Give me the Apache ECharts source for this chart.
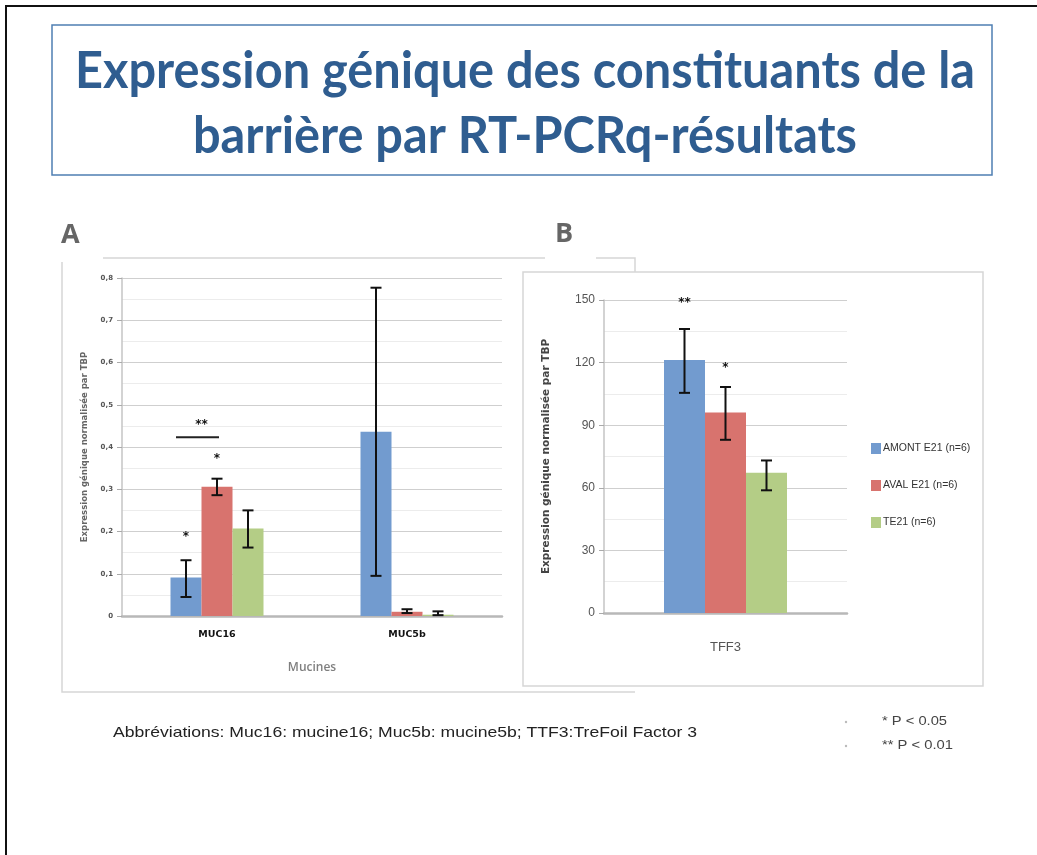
<!DOCTYPE html>
<html><head><meta charset="utf-8">
<script src="https://cdn.jsdelivr.net/npm/echarts@6/dist/echarts.min.js"></script>
<style>html,body{margin:0;padding:0;background:#fff}#c{width:1037px;height:855px}</style>
</head><body><div id="c"></div>
<script>
// Groups shown in both panels
const groupNames = ['AMONT E21 (n=6)', 'AVAL E21 (n=6)', 'TE21 (n=6)'];
const groupColors = ['#729bcf', '#d8736e', '#b4cd86'];

// Panel A: mucins (normalised expression)
const mucinCategories = ['MUC16', 'MUC5b'];
const mucinAmont = [0.091, 0.436];
const mucinAmontLow = [0.045, 0.095];
const mucinAmontHigh = [0.132, 0.777];
const mucinAval = [0.306, 0.010];
const mucinAvalLow = [0.286, 0.007];
const mucinAvalHigh = [0.325, 0.016];
const mucinTe = [0.207, 0.003];
const mucinTeLow = [0.162, 0.002];
const mucinTeHigh = [0.250, 0.011];
// [category, group, value, mark]
const mucinStars = [[0, 0, 0.187, '*'], [0, 1, 0.371, '*'], [0, 0.5, 0.452, '**']];
// [category, fromGroup, toGroup, value]
const mucinBrackets = [[0, 0, 1, 0.423]];

// Panel B: TFF3
const tffCategories = ['TFF3'];
const tffAmont = [121.2];
const tffAmontLow = [105.5];
const tffAmontHigh = [136.1];
const tffAval = [96.1];
const tffAvalLow = [83.0];
const tffAvalHigh = [108.3];
const tffTe = [67.2];
const tffTeLow = [58.8];
const tffTeHigh = [73.1];
const tffStars = [[0, 0, 148.4, '**'], [0, 1, 117.3, '*']];

const yTitle = 'Expression génique normalisée par TBP';
const titleLines = ['Expression génique des constituants de la', 'barrière par RT-PCRq-résultats'];
const footnote = 'Abbréviations: Muc16: mucine16; Muc5b: mucine5b; TTF3:TreFoil Factor 3';
const pNotes = ['* P < 0.05', '** P < 0.01'];

const BAR_A = 31, BAR_B = 41, CAP = 11;

// horizontal scale that makes a string span a given width
const measureCtx = document.createElement('canvas').getContext('2d');
function fitScale(text, font, width) {
  measureCtx.font = font;
  return width / measureCtx.measureText(text).width;
}

function errorData(lows, highs) {
  const out = [];
  lows.forEach((lo, s) => lo.forEach((v, c) => out.push([c, s, v, highs[s][c]])));
  return out;
}

function errorBars(barW) {
  return function (params, api) {
    const cat = api.value(0), s = api.value(1);
    const pLo = api.coord([cat, api.value(2)]);
    const pHi = api.coord([cat, api.value(3)]);
    const x = pLo[0] + (s - 1) * barW;
    const st = { stroke: '#111', lineWidth: 2 };
    return { type: 'group', children: [
      { type: 'line', shape: { x1: x, y1: pLo[1], x2: x, y2: pHi[1] }, style: st },
      { type: 'line', shape: { x1: x - CAP / 2, y1: pHi[1], x2: x + CAP / 2, y2: pHi[1] }, style: st },
      { type: 'line', shape: { x1: x - CAP / 2, y1: pLo[1], x2: x + CAP / 2, y2: pLo[1] }, style: st }
    ]};
  };
}

function starMarks(barW, size) {
  return function (params, api) {
    const p = api.coord([api.value(0), api.value(2)]);
    const x = p[0] + (api.value(1) - 1) * barW;
    return { type: 'text', x: x, y: p[1], style: {
      text: api.value(3), fill: '#111', font: 'bold ' + size + 'px "DejaVu Sans"',
      align: 'center', verticalAlign: 'middle' } };
  };
}

function bracketLines(barW) {
  return function (params, api) {
    const p = api.coord([api.value(0), api.value(3)]);
    const x1 = p[0] + (api.value(1) - 1) * barW - 10;
    const x2 = p[0] + (api.value(2) - 1) * barW + 2;
    return { type: 'line', shape: { x1: x1, y1: p[1], x2: x2, y2: p[1] },
      style: { stroke: '#222', lineWidth: 2 } };
  };
}

const chart = echarts.init(document.getElementById('c'), null, { renderer: 'canvas' });

const gridLine = { lineStyle: { color: '#cfcfcf', width: 1.2 } };
const minorLine = { lineStyle: { color: '#ececec', width: 1 } };

const mucinBars = [mucinAmont, mucinAval, mucinTe];
const tffBars = [tffAmont, tffAval, tffTe];

const series = [];
mucinBars.forEach((d, i) => series.push({
  name: groupNames[i], type: 'bar', xAxisIndex: 0, yAxisIndex: 0, data: d,
  barWidth: BAR_A, barGap: '0%', itemStyle: { color: groupColors[i] }, z: 2
}));
tffBars.forEach((d, i) => series.push({
  name: groupNames[i], type: 'bar', xAxisIndex: 1, yAxisIndex: 1, data: d,
  barWidth: BAR_B, barGap: '0%', itemStyle: { color: groupColors[i] }, z: 2
}));
series.push({
  type: 'custom', xAxisIndex: 0, yAxisIndex: 0, z: 5, silent: true,
  renderItem: errorBars(BAR_A), encode: { x: 0, y: [2, 3] },
  data: errorData([mucinAmontLow, mucinAvalLow, mucinTeLow], [mucinAmontHigh, mucinAvalHigh, mucinTeHigh])
});
series.push({
  type: 'custom', xAxisIndex: 1, yAxisIndex: 1, z: 5, silent: true,
  renderItem: errorBars(BAR_B), encode: { x: 0, y: [2, 3] },
  data: errorData([tffAmontLow, tffAvalLow, tffTeLow], [tffAmontHigh, tffAvalHigh, tffTeHigh])
});
series.push({
  type: 'custom', xAxisIndex: 0, yAxisIndex: 0, z: 5, silent: true,
  renderItem: starMarks(BAR_A, 12), encode: { x: 0, y: 2 }, data: mucinStars
});
series.push({
  type: 'custom', xAxisIndex: 0, yAxisIndex: 0, z: 5, silent: true,
  renderItem: bracketLines(BAR_A), encode: { x: 0, y: 3 }, data: mucinBrackets
});
series.push({
  type: 'custom', xAxisIndex: 1, yAxisIndex: 1, z: 5, silent: true,
  renderItem: starMarks(BAR_B, 12), encode: { x: 0, y: 2 }, data: tffStars
});

const frame = { stroke: '#d6d6d6', lineWidth: 1.5, fill: null };
const titleFont = 'bold 51px Lato';
const titleScale = fitScale(titleLines[0], titleFont, 900);
const footFont = '15px "Liberation Sans"';
const pFont = '12px "Liberation Sans"';

chart.setOption({
  backgroundColor: '#fff',
  animation: false,
  grid: [
    { left: 122, top: 278, width: 380, height: 338 },
    { left: 604, top: 300, width: 243, height: 313 }
  ],
  legend: {
    data: groupNames, orient: 'vertical', left: 866, top: 438,
    itemWidth: 10, itemHeight: 11, itemGap: 26, icon: 'rect',
    textStyle: { fontFamily: '"Liberation Sans"', fontSize: 10.5, color: '#333', padding: [0, 0, 0, -3] }
  },
  xAxis: [
    { type: 'category', gridIndex: 0, data: mucinCategories, z: 1,
      name: 'Mucines', nameLocation: 'middle', nameGap: 46,
      nameTextStyle: { fontFamily: '"Open Sans"', fontWeight: 600, fontSize: 12, color: '#7f7f7f' },
      axisLine: { lineStyle: { color: '#b8b8b8', width: 2.5 } }, axisTick: { show: false },
      axisLabel: { margin: 14, fontFamily: '"DejaVu Sans"', fontWeight: 'bold', fontSize: 9.5, color: '#111' } },
    { type: 'category', gridIndex: 1, data: tffCategories, z: 1,
      axisLine: { lineStyle: { color: '#b8b8b8', width: 2.5 } }, axisTick: { show: false },
      axisLabel: { margin: 28, fontFamily: '"Liberation Sans"', fontSize: 13, color: '#555' } }
  ],
  yAxis: [
    { type: 'value', gridIndex: 0, min: 0, max: 0.8, interval: 0.1, z: 1,
      name: yTitle, nameLocation: 'middle', nameGap: 33, nameRotate: 90,
      nameTextStyle: { fontFamily: '"DejaVu Sans"', fontWeight: 'bold', fontSize: 8.5, color: '#666' },
      axisLine: { show: true, lineStyle: { color: '#c4c4c4', width: 1.5 } },
      axisTick: { show: true, length: 5, lineStyle: { color: '#aaa' } },
      axisLabel: { margin: 9, fontFamily: '"DejaVu Sans"', fontWeight: 'bold', fontSize: 7, color: '#555',
        formatter: v => v === 0 ? '0' : v.toFixed(1).replace('.', ',') },
      splitLine: gridLine, minorTick: { show: false, splitNumber: 2 }, minorSplitLine: Object.assign({ show: true }, minorLine) },
    { type: 'value', gridIndex: 1, min: 0, max: 150, interval: 30, z: 1,
      name: yTitle, nameLocation: 'middle', nameGap: 52, nameRotate: 90,
      nameTextStyle: { fontFamily: '"DejaVu Sans"', fontWeight: 'bold', fontSize: 10.5, color: '#444' },
      axisLine: { show: true, lineStyle: { color: '#c4c4c4', width: 1.5 } },
      axisTick: { show: true, length: 5, lineStyle: { color: '#aaa' } },
      axisLabel: { margin: 9, fontFamily: '"Liberation Sans"', fontSize: 12, color: '#555' },
      splitLine: gridLine, minorTick: { show: false, splitNumber: 2 }, minorSplitLine: Object.assign({ show: true }, minorLine) }
  ],
  graphic: [
    // page border
    { type: 'polyline', z: -1, shape: { points: [[6, 855], [6, 6], [1037, 6]] }, style: { stroke: '#111', lineWidth: 2, fill: null } },
    // title box
    { type: 'rect', z: -1, shape: { x: 52, y: 25, width: 940, height: 150 }, style: { fill: '#fff', stroke: '#4f7fb3', lineWidth: 1.5 } },
    { type: 'text', z: 1, x: 525, y: 72, scaleX: titleScale, style: { text: titleLines[0], font: titleFont, fill: '#2f5d90', align: 'center', verticalAlign: 'middle' } },
    { type: 'text', z: 1, x: 525, y: 137, scaleX: titleScale, style: { text: titleLines[1], font: titleFont, fill: '#2f5d90', align: 'center', verticalAlign: 'middle' } },
    // panel labels
    { type: 'text', z: 1, x: 61, y: 235, style: { text: 'A', font: 'bold 27px "Open Sans"', fill: '#666', verticalAlign: 'middle' } },
    { type: 'text', z: 1, x: 555, y: 234, style: { text: 'B', font: 'bold 27px "Open Sans"', fill: '#666', verticalAlign: 'middle' } },
    // panel A frame
    { type: 'polyline', z: -1, z2: 0, shape: { points: [[103, 258], [545, 258]] }, style: frame },
    { type: 'polyline', z: -1, z2: 0, shape: { points: [[596, 258], [635, 258], [635, 273]] }, style: frame },
    { type: 'polyline', z: -1, z2: 0, shape: { points: [[62, 262], [62, 692], [635, 692]] }, style: frame },
    // panel B frame
    { type: 'rect', z: -1, z2: 5, shape: { x: 523, y: 272, width: 460, height: 414 }, style: { fill: '#fff', stroke: '#d6d6d6', lineWidth: 1.5 } },
    // footnotes
    { type: 'text', z: 1, x: 113, y: 733, scaleX: fitScale(footnote, footFont, 584), style: { text: footnote, font: footFont, fill: '#222', verticalAlign: 'middle' } },
    { type: 'circle', z: 1, shape: { cx: 846, cy: 722, r: 1.2 }, style: { fill: '#bbb' } },
    { type: 'circle', z: 1, shape: { cx: 846, cy: 746, r: 1.2 }, style: { fill: '#bbb' } },
    { type: 'text', z: 1, x: 882, y: 722, scaleX: fitScale(pNotes[0], pFont, 65), style: { text: pNotes[0], font: pFont, fill: '#444', verticalAlign: 'middle' } },
    { type: 'text', z: 1, x: 882, y: 746, scaleX: fitScale(pNotes[1], pFont, 71), style: { text: pNotes[1], font: pFont, fill: '#444', verticalAlign: 'middle' } }
  ],
  series: series
});
</script></body></html>
